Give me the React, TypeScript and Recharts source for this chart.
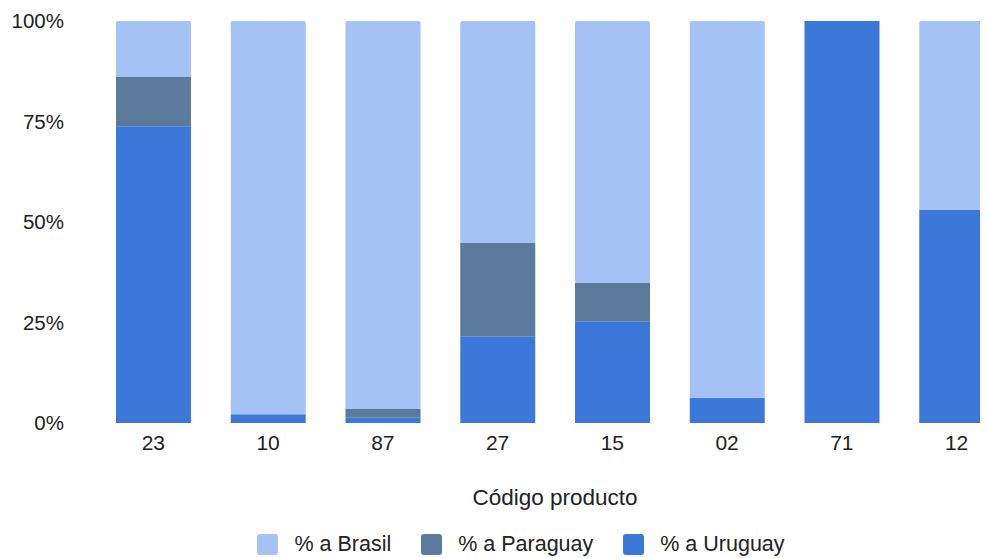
import React from "react";
import { BarChart, Bar, XAxis, YAxis, Legend } from "recharts";

const codes = ["23", "10", "87", "27", "15", "02", "71", "12"];
const uruguay = [73.8, 2.2, 1.3, 21.6, 25.3, 6.3, 100, 53];
const paraguay = [12.3, 0, 2.2, 23.2, 9.5, 0, 0, 0];
const brasil = [13.9, 97.8, 96.5, 55.2, 65.2, 93.7, 0, 47];
const yTicks = [0, 25, 50, 75, 100];

const data = codes.map((code, i) => ({
  code,
  uruguay: uruguay[i],
  paraguay: paraguay[i],
  brasil: brasil[i],
}));

const FONT = "'Liberation Sans', Arial, sans-serif";

// legend with rounded square swatches, like the original
function LegendBox({ payload }: any) {
  const items = payload || [];
  return (
    <div
      style={{
        height: 28,
        display: "flex",
        justifyContent: "center",
        alignItems: "center",
        fontFamily: FONT,
        fontSize: 21.5,
        color: "#222",
      }}
    >
      {items.map((item: any, i: number) => (
        <div key={i} style={{ display: "flex", alignItems: "center", marginLeft: i === 0 ? 0 : 30 }}>
          <span
            style={{
              width: 21,
              height: 21,
              borderRadius: 3,
              background: item.color,
              display: "inline-block",
              marginRight: 16,
            }}
          />
          <span>{item.value}</span>
        </div>
      ))}
    </div>
  );
}

export default function App() {
  return (
    <div style={{ marginLeft: -8, marginTop: -8, width: 988, height: 558, overflow: "hidden" }}>
      <BarChart
        width={1042}
        height={558}
        data={data}
        margin={{ top: 21, right: 28, left: 0, bottom: 0 }}
        style={{ fontFamily: FONT }}
      >
        <XAxis
          dataKey="code"
          axisLine={false}
          tickLine={false}
          tickSize={0}
          tickMargin={12}
          height={107}
          tick={{ fill: "#222", fontSize: 21 }}
          label={{ value: "Código producto", position: "insideBottom", offset: 25, fill: "#222", fontSize: 22.5 }}
        />
        <YAxis
          domain={[0, 100]}
          ticks={yTicks}
          axisLine={false}
          tickLine={false}
          tickSize={0}
          tickMargin={32}
          width={96}
          tickFormatter={(v) => `${v}%`}
          tick={{ fill: "#222", fontSize: 20.5 }}
        />
        <Legend
          verticalAlign="bottom"
          content={<LegendBox />}
          wrapperStyle={{ left: 0, width: 1042 }}
        />
        <Bar dataKey="uruguay" name="% a Uruguay" stackId="a" fill="#3c78d8" barSize={75} isAnimationActive={false} />
        <Bar dataKey="paraguay" name="% a Paraguay" stackId="a" fill="#5b7a9c" barSize={75} isAnimationActive={false} />
        <Bar
          dataKey="brasil"
          name="% a Brasil"
          stackId="a"
          fill="#a4c2f4"
          barSize={75}
          radius={[2, 2, 0, 0]}
          isAnimationActive={false}
        />
      </BarChart>
    </div>
  );
}
